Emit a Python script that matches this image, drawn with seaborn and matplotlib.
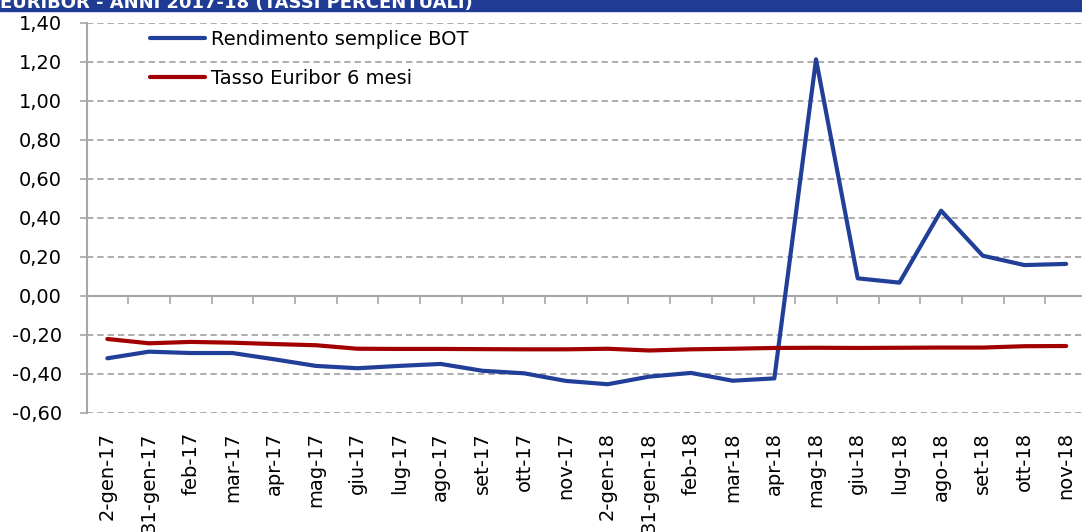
import numpy as np
import pandas as pd
import matplotlib
matplotlib.use("Agg")
import matplotlib.pyplot as plt
import seaborn as sns
from matplotlib.patches import Rectangle
from matplotlib.ticker import FuncFormatter

# dati
date = ["2-gen-17", "31-gen-17", "feb-17", "mar-17", "apr-17", "mag-17", "giu-17",
        "lug-17", "ago-17", "set-17", "ott-17", "nov-17", "2-gen-18", "31-gen-18",
        "feb-18", "mar-18", "apr-18", "mag-18", "giu-18", "lug-18", "ago-18",
        "set-18", "ott-18", "nov-18"]
bot = [-0.321, -0.287, -0.294, -0.294, -0.326, -0.360, -0.372, -0.360, -0.350,
       -0.385, -0.398, -0.437, -0.454, -0.415, -0.396, -0.436, -0.424, 1.212,
       0.089, 0.067, 0.436, 0.205, 0.157, 0.163]
euribor = [-0.222, -0.244, -0.237, -0.241, -0.248, -0.254, -0.272, -0.273, -0.273,
           -0.274, -0.275, -0.275, -0.272, -0.281, -0.275, -0.272, -0.268, -0.267,
           -0.268, -0.267, -0.266, -0.266, -0.259, -0.258]
serie = ["Rendimento semplice BOT", "Tasso Euribor 6 mesi"]
titolo = "EURIBOR - ANNI 2017-18 (TASSI PERCENTUALI)"

df = pd.DataFrame({"pos": list(range(len(date))) * 2,
                   "valore": bot + euribor,
                   "serie": [serie[0]] * len(date) + [serie[1]] * len(date)})

sns.set_style("white")
plt.rcParams["font.family"] = ["DejaVu Sans"]
plt.rcParams["text.color"] = "black"
plt.rcParams["xtick.color"] = "black"
plt.rcParams["ytick.color"] = "black"

W, H = 1082, 532
fig = plt.figure(figsize=(W / 100, H / 100), dpi=100)
ax = fig.add_axes([86.5 / W, (H - 412.7) / H, 1000.5 / W, 390 / H])

sns.lineplot(data=df, x="pos", y="valore", hue="serie",
             palette=["#213f99", "#a20000"], linewidth=3.0, ax=ax)

grigio = "#a6a6a6"
ax.set_xlim(-0.5, len(date) - 0.5)
ax.set_ylim(-0.6, 1.4)
ax.set_yticks(np.arange(-0.6, 1.41, 0.2))
ax.yaxis.set_major_formatter(FuncFormatter(lambda v, p: f"{v:.2f}".replace(".", ",").replace("-0,00", "0,00")))
ax.yaxis.grid(True, linestyle=(0, (3.5, 2.2)), color=grigio, linewidth=1.3)
ax.set_axisbelow(True)
ax.axhline(0, color=grigio, linewidth=1.5, zorder=1)

for s in ["top", "right", "bottom"]:
    ax.spines[s].set_visible(False)
ax.spines["left"].set_color(grigio)
ax.spines["left"].set_linewidth(1.5)

ax.set_xticks(range(len(date)))
ax.set_xticklabels(date, rotation=90, va="top")
ax.tick_params(axis="x", length=0, pad=14, labelsize=14, labelcolor="black")
ax.tick_params(axis="y", left=True, length=4.8, width=1.2, color=grigio,
               direction="out", pad=13, labelsize=14, labelcolor="black")
ax.set_xlabel("")
ax.set_ylabel("")

# tacche dell'asse categorie sulla linea dello zero
sec = ax.secondary_xaxis(0.3)
sec.set_xticks(np.arange(0.5, len(date) - 0.5, 1))
sec.tick_params(length=6, width=1.2, color=grigio, direction="out", labelbottom=False)
sec.spines["bottom"].set_visible(False)

leg = ax.legend(title=None, frameon=False, loc="upper left", bbox_to_anchor=(0.0635, 0.982),
                borderpad=0, borderaxespad=0, handlelength=2.85, handletextpad=0.28,
                labelspacing=1.05, fontsize=14)
for t in leg.get_texts():
    t.set_color("black")

# barra del titolo (tagliata in alto)
fig.add_artist(Rectangle((0, 1 - 10.5 / H), 1, 10.5 / H, transform=fig.transFigure,
                         color="#203b94", zorder=0))
fig.text(473 / W, 1 - 8.5 / H, titolo, ha="right", va="baseline", color="white",
         fontsize=13, fontweight="bold")

fig.savefig("out.png", dpi=100)
